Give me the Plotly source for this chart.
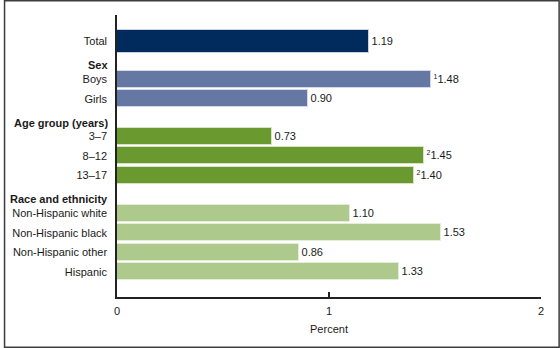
import plotly.graph_objects as go

# Percentage of children with the condition, by characteristic
groups = ["", "Sex", "Age group (years)", "Race and ethnicity"]
labels = [
    ["Total"],
    ["Boys", "Girls"],
    ["3–7", "8–12", "13–17"],
    ["Non-Hispanic white", "Non-Hispanic black", "Non-Hispanic other", "Hispanic"],
]
values = [
    [1.19],
    [1.48, 0.90],
    [0.73, 1.45, 1.40],
    [1.10, 1.53, 0.86, 1.33],
]
notes = [
    [""],
    ["1", ""],
    ["", "2", "2"],
    ["", "", "", ""],
]
x_ticks = [0, 1, 2]

fill_colors = ["#002b5c", "#6478a3", "#6a9a2f", "#adc98b"]
edge_colors = ["#c9d2de", "#d3d9e6", "#d6e4c6", "#e3eed8"]

FONT = "Liberation Sans, Arial, sans-serif"
GROUP_GAP = 1.92  # distance (in rows) between the last bar of a group and the next

# plot-area margins in pixels
ML, MR, MT, MB = 114, 19, 15, 51
W, H = 560, 348
PW, PH = W - ML - MR, H - MT - MB

fig = go.Figure()

tick_pos, tick_text, headers = [], [], []
pos = 0.0
for gi, (head, labs, vals, nts) in enumerate(zip(groups, labels, values, notes)):
    ys = []
    for i, lab in enumerate(labs):
        if gi > 0 or i > 0:
            pos += GROUP_GAP if i == 0 else 1.0
        ys.append(pos)
        tick_pos.append(pos)
        tick_text.append(lab)
    if head:
        headers.append((head, ys[0]))
    texts = [
        (f"<sup><span style='font-size:7px'>{n}</span></sup>" if n else "") + f"{v:.2f}"
        for v, n in zip(vals, nts)
    ]
    fig.add_trace(go.Bar(
        x=vals, y=ys, orientation="h",
        width=1.17 if gi == 0 else 0.86,
        marker=dict(color=fill_colors[gi], line=dict(color=edge_colors[gi], width=1)),
        text=texts, textposition="outside", cliponaxis=False,
        textfont=dict(family=FONT, size=11, color="#1a1a1a"),
        hoverinfo="skip", showlegend=False,
    ))

for head, y0 in headers:
    fig.add_annotation(
        x=0, y=y0 - 0.7, xref="x", yref="y", text=f"<b>{head}</b>",
        showarrow=False, xanchor="right", yanchor="middle", xshift=-7,
        font=dict(family=FONT, size=11, color="#1a1a1a"),
    )

last = tick_pos[-1]
fig.update_layout(
    width=W, height=H,
    margin=dict(l=ML, r=MR, t=MT, b=MB),
    paper_bgcolor="white", plot_bgcolor="white",
    bargap=0,
    xaxis=dict(
        range=[0, 2], tickvals=x_ticks, ticktext=[str(t) for t in x_ticks],
        showgrid=False, zeroline=False,
        showline=True, linecolor="#222", linewidth=1.5,
        ticks="inside", ticklen=5, tickcolor="#222", tickwidth=1.5,
        ticklabelstandoff=3,
        tickfont=dict(family=FONT, size=11, color="#1a1a1a"),
        title=dict(text="Percent", font=dict(family=FONT, size=11, color="#1a1a1a"), standoff=9),
    ),
    yaxis=dict(
        range=[last + 1.28, -1.35], tickvals=tick_pos, ticktext=tick_text,
        showgrid=False, zeroline=False,
        showline=True, linecolor="#222", linewidth=1.5,
        ticks="", ticklabelstandoff=6,
        tickfont=dict(family=FONT, size=11, color="#1a1a1a"),
    ),
    shapes=[dict(
        type="rect", xref="paper", yref="paper",
        x0=(0.75 - ML) / PW, x1=(W - 0.75 - ML) / PW,
        y0=-(H - 0.75 - MT - PH) / PH, y1=1 + (MT - 0.75) / PH,
        line=dict(color="#3c3c3c", width=1.5), fillcolor="rgba(0,0,0,0)", layer="above",
    )],
)

fig.write_html("out.html")
